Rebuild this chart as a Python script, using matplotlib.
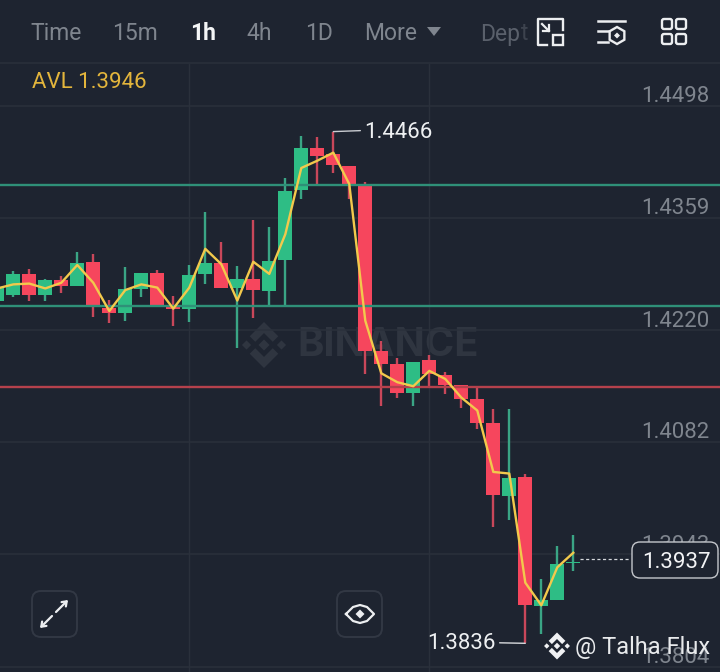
import matplotlib
matplotlib.use("Agg")
import matplotlib.pyplot as plt
from matplotlib.patches import FancyBboxPatch, Polygon, Rectangle, RegularPolygon

plt.rcParams['font.family'] = ['Roboto', 'DejaVu Sans']

# candle data
opens = [1.4256, 1.4264, 1.4290, 1.4264, 1.4282, 1.4275, 1.4305, 1.4248, 1.4242, 1.4271, 1.4291, 1.4249,
         1.4247, 1.4290, 1.4303, 1.4273, 1.4284, 1.4269, 1.4307, 1.4394, 1.4446, 1.4438, 1.4424, 1.4400,
         1.4194, 1.4179, 1.4143, 1.4183, 1.4165, 1.4152, 1.4135, 1.4106, 1.4015, 1.4039, 1.3879, 1.3886, 1.3932]
closes = [1.4272, 1.4290, 1.4264, 1.4282, 1.4275, 1.4304, 1.4249, 1.4242, 1.4271, 1.4291, 1.4249, 1.4247,
          1.4289, 1.4303, 1.4273, 1.4284, 1.4270, 1.4306, 1.4393, 1.4446, 1.4436, 1.4425, 1.4401, 1.4195,
          1.4179, 1.4143, 1.4181, 1.4166, 1.4152, 1.4135, 1.4106, 1.4016, 1.4038, 1.3880, 1.3886, 1.3931, 1.3934]
highs = [1.4272, 1.4293, 1.4296, 1.4284, 1.4287, 1.4317, 1.4315, 1.4258, 1.4299, 1.4291, 1.4295, 1.4263,
         1.4301, 1.4366, 1.4329, 1.4300, 1.4357, 1.4348, 1.4409, 1.4460, 1.4459, 1.4466, 1.4424, 1.4404,
         1.4207, 1.4186, 1.4181, 1.4190, 1.4168, 1.4152, 1.4149, 1.4123, 1.4123, 1.4042, 1.3912, 1.3953, 1.3967]
lows = [1.4256, 1.4262, 1.4256, 1.4256, 1.4266, 1.4275, 1.4237, 1.4229, 1.4232, 1.4261, 1.4249, 1.4225,
        1.4230, 1.4277, 1.4273, 1.4198, 1.4235, 1.4252, 1.4252, 1.4383, 1.4401, 1.4415, 1.4383, 1.4166,
        1.4127, 1.4137, 1.4127, 1.4150, 1.4142, 1.4124, 1.4098, 1.3977, 1.3986, 1.3833, 1.3845, 1.3886, 1.3923]
avl_line = [1.4272, 1.4277, 1.4278, 1.4272, 1.4279, 1.4301, 1.4279, 1.4244, 1.4270, 1.4277, 1.4273, 1.4247,
            1.4273, 1.4321, 1.4302, 1.4257, 1.4305, 1.4290, 1.4339, 1.4421, 1.4430, 1.4440, 1.4401, 1.4232,
            1.4167, 1.4156, 1.4151, 1.4170, 1.4160, 1.4137, 1.4121, 1.4045, 1.4043, 1.3908, 1.3880, 1.3927, 1.3945]

price_ticks = [1.4498, 1.4359, 1.4220, 1.4082, 1.3943, 1.3804]
green_levels = [1.4400, 1.4250]
red_levels = [1.4150]
high_mark = 1.4466
low_mark = 1.3836
last_price = 1.3937
avl_value = 1.3946
periods = ["Time", "15m", "1h", "4h", "1D", "More"]

BG = '#1e2430'
GREEN = '#2ebd85'
RED = '#f6465d'
GREY = '#7f858e'
GRID = '#2a303b'
WHITE = '#eceef0'
LABEL_SIZE = 16

fig = plt.figure(figsize=(7.2, 6.72), dpi=100, facecolor=BG)


# axes whose units are the pixels of the picture, for the app's buttons and logos
def pixel_axes(z):
    a = fig.add_axes([0, 0, 1, 1], zorder=z)
    a.set_xlim(0, 720)
    a.set_ylim(672, 0)
    a.axis('off')
    return a


def binance_logo(a, cx, cy, s, color):
    top = [(-.62, -.38), (0, -1), (.62, -.38), (.38, -.14), (0, -.52), (-.38, -.14)]
    bottom = [(x, -y) for x, y in top]
    for shape in (top, bottom):
        a.add_patch(Polygon([(cx + x * s, cy + y * s) for x, y in shape], color=color, lw=0))
    for dx, r in ((0, .24), (-.76, .2), (.76, .2)):
        pts = [(0, -r), (r, 0), (0, r), (-r, 0)]
        a.add_patch(Polygon([(cx + (dx + x) * s, cy + y * s) for x, y in pts], color=color, lw=0))


back = pixel_axes(1)
ax = fig.add_axes([0, 0, 1, 1], zorder=2)
ui = pixel_axes(3)

# watermark stays behind the candles
binance_logo(back, 264, 345, 23, '#2f3540')
back.text(297, 346, "BINANCE", color='#2f3540', fontsize=28.7, fontweight='bold', va='center', ha='left',
          family='Inter')

# chart: one candle step is 16 px, first candle sits just off the left edge
idx = list(range(len(opens)))
ax.set_xlim(2.7 / 16, 722.7 / 16)
ax.set_ylim(1.37975, 1.46288)
ax.patch.set_alpha(0)
for s in ax.spines.values():
    s.set_visible(False)
ax.set_xticks([])
ax.set_yticks([])

for p in price_ticks:
    ax.axhline(p, color=GRID, lw=1.1, zorder=1)
    ax.annotate(f"{p:.4f}", xy=(1, p), xycoords=('axes fraction', 'data'), xytext=(-7.5, 6.7),
                textcoords='offset points', color=GREY, fontsize=LABEL_SIZE, ha='right', va='center', zorder=2)
ax.vlines([12, 27], 1.37975, 1.4551, color=GRID, lw=1, zorder=1)
ax.axhline(1.4551, color='#272d38', lw=1.6, zorder=1)

colors = [GREEN if c >= o else RED for o, c in zip(opens, closes)]
wick_colors = ['#3aa585' if c == GREEN else '#c9475a' for c in colors]
bottoms = [min(o, c) for o, c in zip(opens, closes)]
heights = [abs(c - o) for o, c in zip(opens, closes)]
ax.vlines(idx, lows, highs, colors=wick_colors, lw=1.7, zorder=3)
ax.bar(idx, heights, bottom=bottoms, width=0.875, color=colors, lw=0, zorder=4)

for lv in green_levels:
    ax.axhline(lv, color='#2f9078', lw=1.7, zorder=5)
for lv in red_levels:
    ax.axhline(lv, color='#b5414c', lw=1.7, zorder=5)
ax.plot(idx, avl_line, color='#f2c94c', lw=1.7, zorder=6)

# high and low markers with their leader lines
hi = highs.index(max(highs))
lo = lows.index(min(lows))
ax.annotate(f"{high_mark:.4f}", xy=(hi, highs[hi]), xytext=(22.5, -1),
            textcoords='offset points', color='#eef0f2', fontsize=LABEL_SIZE, va='center', ha='left',
            arrowprops=dict(arrowstyle='-', color='#c9ccd1', lw=1, shrinkA=1, shrinkB=0,
                            relpos=(0, 0.62)), zorder=7)
ax.annotate(f"{low_mark:.4f}", xy=(lo, lows[lo]), xytext=(-21.5, -0.5),
            textcoords='offset points', color='#eef0f2', fontsize=LABEL_SIZE, va='center', ha='right',
            arrowprops=dict(arrowstyle='-', color='#d8dadd', lw=1, shrinkA=1, shrinkB=0,
                            relpos=(1, 0.56)), zorder=7)

# last price dashes and box
ax.plot([36.4, 39.5], [last_price, last_price], color='#d5d8dc', lw=0.9, ls=(0, (2.5, 2)), zorder=5)
ui.add_patch(FancyBboxPatch((636, 546), 78, 28, boxstyle='round,pad=4,rounding_size=8', fc=BG, ec='#c4c7cc', lw=1))
ui.text(676, 562.5, f"{last_price:.4f}", color='#f2f3f5', fontsize=LABEL_SIZE, ha='center', va='center')

# top bar
ui.text(32, 83, f"AVL {avl_value:.4f}", color='#e3b53c', fontsize=LABEL_SIZE, va='center')
x_pos = [30, 112, 190, 246, 305, 364]
for name, x in zip(periods, x_pos):
    if name == "1h":
        ui.text(x, 33, name, color='#f4f5f6', fontsize=16.5, fontweight='bold', va='center')
    else:
        ui.text(x, 33, name, color=GREY, fontsize=16.5, va='center')
ui.add_patch(Polygon([(427, 27), (441, 27), (434, 36)], color=GREY, lw=0))
ui.text(480, 34, "Dep", color='#5a606b', fontsize=16.5, va='center')
ui.text(521, 34, "t", color='#3d434e', fontsize=16.5, va='center')

# panel icon
ui.plot([547, 537.5, 537.5, 563, 563], [45, 45, 18.5, 18.5, 30], color=WHITE, lw=1.7)
ui.add_patch(Rectangle((552.5, 35), 10.5, 9.5, fc=BG, ec=WHITE, lw=1.7))
ui.plot([542, 549], [24, 31], color=WHITE, lw=1.6)
ui.plot([543, 549, 549], [31, 31, 25], color=WHITE, lw=1.6)
# settings icon
ui.plot([598, 625], [21, 21], color=WHITE, lw=1.8)
ui.plot([598, 608], [31, 31], color=WHITE, lw=1.8)
ui.plot([598, 608], [42, 42], color=WHITE, lw=1.8)
ui.add_patch(RegularPolygon((617, 35.5), 6, radius=8.5, fc=BG, ec=WHITE, lw=1.7))
ui.add_patch(Polygon([(617, 32.5), (620, 35.5), (617, 38.5), (614, 35.5)], color=WHITE, lw=0))
# grid icon
for x in (662, 676):
    for y in (19, 34):
        ui.add_patch(FancyBboxPatch((x + 1, y + 1), 8, 8, boxstyle='round,pad=1,rounding_size=2',
                                    fc=BG, ec=WHITE, lw=1.7))

# bottom buttons
for x in (32, 337):
    ui.add_patch(FancyBboxPatch((x + 8, 599), 29, 30, boxstyle='round,pad=8,rounding_size=9',
                                fc=BG, ec='#323844', lw=1.4))
head = dict(arrowstyle='->,head_width=.22,head_length=.3', color=WHITE, lw=1.6, shrinkA=0, shrinkB=0)
ui.annotate("", xy=(68, 600), xytext=(56, 612), arrowprops=head)
ui.annotate("", xy=(40, 628), xytext=(52, 616), arrowprops=head)
eye_x = [346, 353, 360, 367, 374, 367, 360, 353, 346]
eye_y = [614, 607, 605, 607, 614, 621, 623, 621, 614]
ui.plot(eye_x, eye_y, color=WHITE, lw=1.6)
ui.add_patch(Polygon([(360, 609.5), (364.5, 614), (360, 618.5), (355.5, 614)], color=WHITE, lw=0))

# author mark
binance_logo(ui, 557, 646, 13.5, '#f0f1f3')
ui.text(575, 647.5, "@ Talha Flux", color='#e8eaec', fontsize=17, va='center', ha='left')

fig.savefig("out.png", dpi=100, facecolor=BG)
